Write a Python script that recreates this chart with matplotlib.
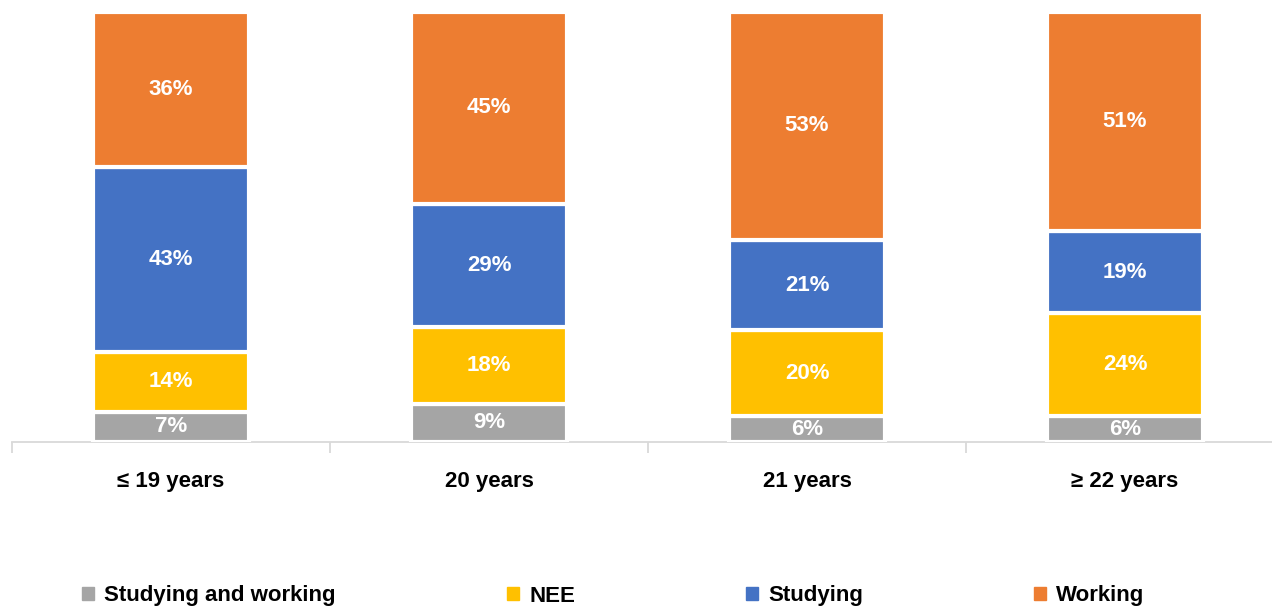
import numpy as np
import matplotlib
matplotlib.use("Agg")
import matplotlib.pyplot as plt
from matplotlib.patches import Patch

categories = ["\u2264 19 years", "20 years", "21 years", "\u2265 22 years"]
series = ["Studying and working", "NEE", "Studying", "Working"]
studying_working = [7, 9, 6, 6]
nee = [14, 18, 20, 24]
studying = [43, 29, 21, 19]
working = [36, 45, 53, 51]
colors = ["#A5A5A5", "#FFC000", "#4472C4", "#ED7D31"]

plt.rcParams['font.family'] = ['Liberation Sans', 'DejaVu Sans']
plt.rcParams['font.weight'] = 'bold'

W, H = 1272, 607
fig = plt.figure(figsize=(W / 100, H / 100), dpi=100)
ax = fig.add_axes([12 / W, (H - 442) / H, 1 - 12 / W, 430 / H])

data = np.array([studying_working, nee, studying, working], dtype=float)
totals = data.sum(axis=0)
x = np.arange(len(categories))
bottom = np.zeros(len(categories))
for i, name in enumerate(series):
    share = data[i] / totals
    bars = ax.bar(x, share, 0.49, bottom=bottom, color=colors[i],
                  edgecolor="white", linewidth=3, label=name)
    for j, b in enumerate(bars):
        ax.text(b.get_x() + b.get_width() / 2, bottom[j] + share[j] / 2,
                "%d%%" % data[i][j], ha="center", va="center",
                color="white", fontsize=16, fontweight="bold")
    bottom += share

ax.set_ylim(0, 1)
ax.set_xlim(-0.5, 3.5 - 12 / 318)
for s in ["top", "right", "left"]:
    ax.spines[s].set_visible(False)
ax.spines["bottom"].set_color("#D9D9D9")
ax.spines["bottom"].set_linewidth(1.3)
ax.spines["bottom"].set_zorder(0)
ax.set_yticks([])
ax.set_xticks(x)
ax.set_xticklabels(categories, fontsize=16, fontweight="bold")
ax.tick_params(axis="x", which="major", length=0, pad=21)
ax.set_xticks([-0.5, 0.5, 1.5, 2.5], minor=True)
ax.tick_params(axis="x", which="minor", length=8, width=1.3, color="#D9D9D9")

handles = [Patch(color=c, label=n) for c, n in zip(colors, series)]
fig.legend(handles=handles, loc="center left", bbox_to_anchor=(82 / W, 1 - 596 / H),
           ncol=4, frameon=False, fontsize=16, handlelength=0.55, handleheight=0.55,
           handletextpad=0.45, columnspacing=7.7, borderpad=0, borderaxespad=0)

fig.savefig("out.png", dpi=100)
